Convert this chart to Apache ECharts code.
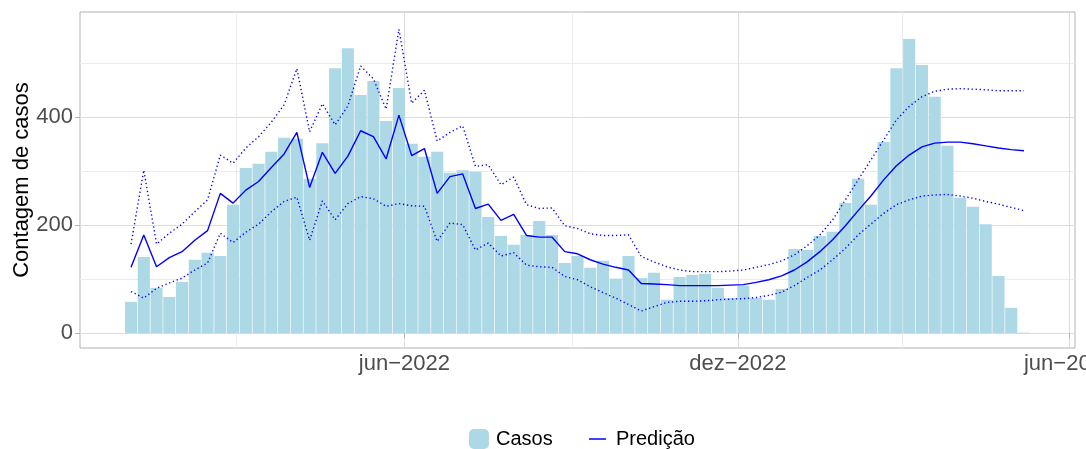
<!DOCTYPE html>
<html>
<head>
<meta charset="utf-8">
<script src="https://cdn.jsdelivr.net/npm/echarts@6.0.0/dist/echarts.min.js"></script>
<style>
  html, body { margin: 0; padding: 0; background: #fff; }
  #chart { width: 1086px; height: 449px; }
</style>
</head>
<body>
<div id="chart"></div>
<script>
// semanas epidemiologicas (inicio de cada semana)
var primeiraSemana = '2022-01-02';
var nSemanas = 71;

var casos = [58,141,84,67,95,136,149,143,238,306,
  314,336,362,360,286,352,491,528,441,467,
  393,454,351,327,336,297,302,299,215,180,
  164,182,208,182,130,143,121,134,101,143,
  102,112,62,104,108,110,84,65,88,65,
  62,82,156,154,180,188,241,286,238,354,
  491,545,497,438,347,251,234,202,106,47,1];

var predicao = [122,182,123,140,151,172,190,259,241,265,
  281,307,332,372,270,335,296,328,375,364,
  323,404,329,342,259,290,295,231,239,209,
  220,181,178,178,151,147,136,128,122,117,
  92,91,90,88,88,88,88,89,90,94,
  99,106,117,132,151,173,199,227,254,284,
  310,330,345,352,354,354,351,347,343,340,338];

var limSuperior = [165,302,165,185,202,225,247,330,315,343,
  364,391,423,490,373,425,386,421,495,471,
  415,563,426,450,356,372,384,309,312,275,
  289,238,231,232,199,194,184,181,181,182,
  142,132,123,117,114,114,114,115,117,122,
  127,134,145,162,182,210,247,284,321,358,
  395,420,438,448,452,453,452,451,449,449,449];

var limInferior = [77,65,83,93,102,117,130,185,168,187,
  202,225,244,252,172,245,210,240,253,249,
  235,240,236,235,170,204,201,154,167,143,
  149,126,123,122,105,99,86,75,65,53,
  41,49,57,59,59,60,62,63,64,66,
  70,76,88,103,117,136,157,182,202,222,
  238,247,254,256,257,254,250,244,239,233,227];

var xTicks = ['2022-06-01', '2022-12-01', '2023-06-01'];
var xMinor = ['2022-03-01', '2022-09-01', '2023-03-01'];
var yTicks = [0, 200, 400];
var yMinor = [100, 300, 500];
var meses = ['jan','fev','mar','abr','mai','jun','jul','ago','set','out','nov','dez'];

function ts(s) { return new Date(s + 'T00:00:00Z').getTime(); }

var semanas = [];
for (var i = 0; i < nSemanas; i++) {
  semanas.push(ts(primeiraSemana) + i * 7 * 86400000);
}
function pares(vals) {
  return vals.map(function (v, i) { return [semanas[i], v]; });
}

function legendText(padLeft) {
  return { fontFamily: 'Liberation Sans', fontSize: 20, color: '#000', padding: [0, 0, 0, padLeft] };
}

var myChart = echarts.init(document.getElementById('chart'));
var option = {
  animation: false,
  grid: {
    left: 80, right: 11, top: 12, bottom: 101,
    show: true, borderColor: '#b3b3b3', borderWidth: 1,
    outerBoundsMode: 'none'
  },
  legend: [{
    left: 469, top: 429, padding: 0,
    itemWidth: 20, itemHeight: 20,
    textStyle: legendText(2),
    data: ['Casos']
  }, {
    left: 589, top: 429, padding: 0,
    icon: 'rect', itemWidth: 17, itemHeight: 1.5,
    textStyle: legendText(5),
    data: ['Predição']
  }],
  xAxis: [{
    type: 'value',
    min: ts('2021-12-05'), max: ts('2023-06-04'),
    axisLine: { show: false },
    axisTick: { show: true, length: 5, customValues: xTicks.map(ts), lineStyle: { color: '#b3b3b3' } },
    axisLabel: {
      customValues: xTicks.map(ts), margin: 5,
      fontFamily: 'Liberation Sans', fontSize: 22, color: '#4d4d4d',
      formatter: function (v) {
        var d = new Date(v);
        return meses[d.getUTCMonth()] + '\u2212' + d.getUTCFullYear();
      }
    },
    splitLine: { show: true, lineStyle: { color: '#dedede', width: 1 } }
  }, {
    type: 'value', position: 'top',
    min: ts('2021-12-05'), max: ts('2023-06-04'),
    axisLine: { show: false },
    axisTick: { show: false, customValues: xMinor.map(ts) },
    axisLabel: { show: false, customValues: xMinor.map(ts) },
    splitLine: { show: true, lineStyle: { color: '#ebebeb', width: 1 } }
  }],
  yAxis: [{
    type: 'value', min: -27.5, max: 595,
    name: 'Contagem de casos', nameLocation: 'middle', nameRotate: 90,
    nameGap: 47, nameMoveOverlap: false,
    nameTextStyle: { fontFamily: 'Liberation Sans', fontSize: 22, color: '#000' },
    axisLine: { show: false },
    axisTick: { show: true, length: 5, customValues: yTicks, lineStyle: { color: '#b3b3b3' } },
    axisLabel: {
      customValues: yTicks, margin: 7,
      fontFamily: 'Liberation Sans', fontSize: 22, color: '#4d4d4d'
    },
    splitLine: { show: true, lineStyle: { color: '#dedede', width: 1 } }
  }, {
    type: 'value', position: 'right', min: -27.5, max: 595,
    axisLine: { show: false },
    axisTick: { show: false, customValues: yMinor },
    axisLabel: { show: false, customValues: yMinor },
    splitLine: { show: true, lineStyle: { color: '#ebebeb', width: 1 } }
  }],
  series: [
    {
      name: 'Casos', type: 'bar', barWidth: 12.1,
      itemStyle: { color: '#add8e6' },
      data: pares(casos)
    },
    {
      name: 'Limite superior', type: 'line', symbol: 'none',
      lineStyle: { color: '#0000ff', width: 1.4, type: [1.3, 2.7] },
      data: pares(limSuperior)
    },
    {
      name: 'Limite inferior', type: 'line', symbol: 'none',
      lineStyle: { color: '#0000ff', width: 1.4, type: [1.3, 2.7] },
      data: pares(limInferior)
    },
    {
      name: 'Predição', type: 'line', symbol: 'none',
      itemStyle: { color: '#0000ff' },
      lineStyle: { color: '#0000ff', width: 1.4 },
      data: pares(predicao)
    }
  ]
};
myChart.setOption(option);
</script>
</body>
</html>
